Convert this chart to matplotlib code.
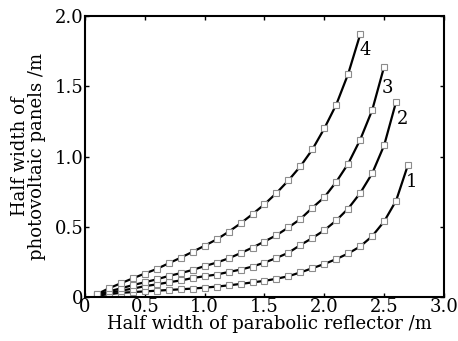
import numpy as np
import matplotlib
matplotlib.use("Agg")
import matplotlib.pyplot as plt

plt.rcParams["font.family"] = "DejaVu Serif"
plt.rcParams.update({'font.size': 12})

#%% data

x1 = [0.1, 0.2, 0.3, 0.4, 0.5, 0.6, 0.7, 0.8, 0.9, 1.0, 1.1, 1.2, 1.3, 1.4,
      1.5, 1.6, 1.7, 1.8, 1.9, 2.0, 2.1, 2.2, 2.3, 2.4, 2.5, 2.6, 2.7]
y1 = [0.01, 0.02, 0.03, 0.035, 0.04, 0.045, 0.05, 0.055, 0.06, 0.067, 0.074,
      0.083, 0.093, 0.104, 0.115, 0.13, 0.148, 0.175, 0.205, 0.235, 0.27,
      0.31, 0.36, 0.433, 0.538, 0.686, 0.943]

x2 = x1[:26]
y2 = [0.015, 0.03, 0.045, 0.06, 0.077, 0.09, 0.105, 0.118, 0.135, 0.148,
      0.16, 0.178, 0.195, 0.217, 0.245, 0.278, 0.315, 0.37, 0.42, 0.475,
      0.545, 0.63, 0.74, 0.88, 1.08, 1.39]

x3 = x1[:25]
y3 = [0.018, 0.04, 0.062, 0.085, 0.105, 0.126, 0.15, 0.17, 0.193, 0.22,
      0.245, 0.275, 0.312, 0.352, 0.395, 0.44, 0.495, 0.555, 0.635, 0.71,
      0.82, 0.95, 1.12, 1.33, 1.64]

x4 = x1[:23]
y4 = [0.02, 0.062, 0.098, 0.133, 0.167, 0.2, 0.24, 0.28, 0.322, 0.365, 0.41,
      0.464, 0.524, 0.59, 0.66, 0.74, 0.83, 0.93, 1.05, 1.20, 1.37, 1.59, 1.87]

curve_names = ['1', '2', '3', '4']
label_pos = [(2.73, 0.82), (2.65, 1.27), (2.53, 1.49), (2.34, 1.76)]

#%% plot

fig = plt.figure(figsize=(4.58, 3.41), dpi=100)
ax = fig.add_axes([0.1856, 0.129, 0.7838, 0.824])

for xs, ys in [(x1, y1), (x2, y2), (x3, y3), (x4, y4)]:
    ax.plot(xs, ys, '-', color='black', lw=1.6)
    ax.plot(xs, ys, 's', ms=4.5, mfc='white', mec='#8c8c8c', mew=0.8)

for name, (tx, ty) in zip(curve_names, label_pos):
    ax.text(tx, ty, name, ha='center', va='center', fontsize=13)

ax.set_xlim(0, 3.0)
ax.set_ylim(0, 2.0)
ax.set_xticks([0, 0.5, 1.0, 1.5, 2.0, 2.5, 3.0])
ax.set_xticklabels(['0', '0.5', '1.0', '1.5', '2.0', '2.5', '3.0'])
ax.set_yticks([0, 0.5, 1.0, 1.5, 2.0])
ax.set_yticklabels(['0', '0.5', '1.0', '1.5', '2.0'])
ax.tick_params(direction='in', top=True, right=True, length=3, width=1,
               pad=1, labelsize=13)
for sp in ax.spines.values():
    sp.set_linewidth(1.5)

ax.set_xlabel('Half width of parabolic reflector /m', fontsize=13,
              labelpad=0)
ax.xaxis.set_label_coords(0.515, -0.065)
ax.set_ylabel('Half width of\nphotovoltaic panels /m', fontsize=13,
              linespacing=0.95, labelpad=6)

fig.savefig('out.png', dpi=100)
